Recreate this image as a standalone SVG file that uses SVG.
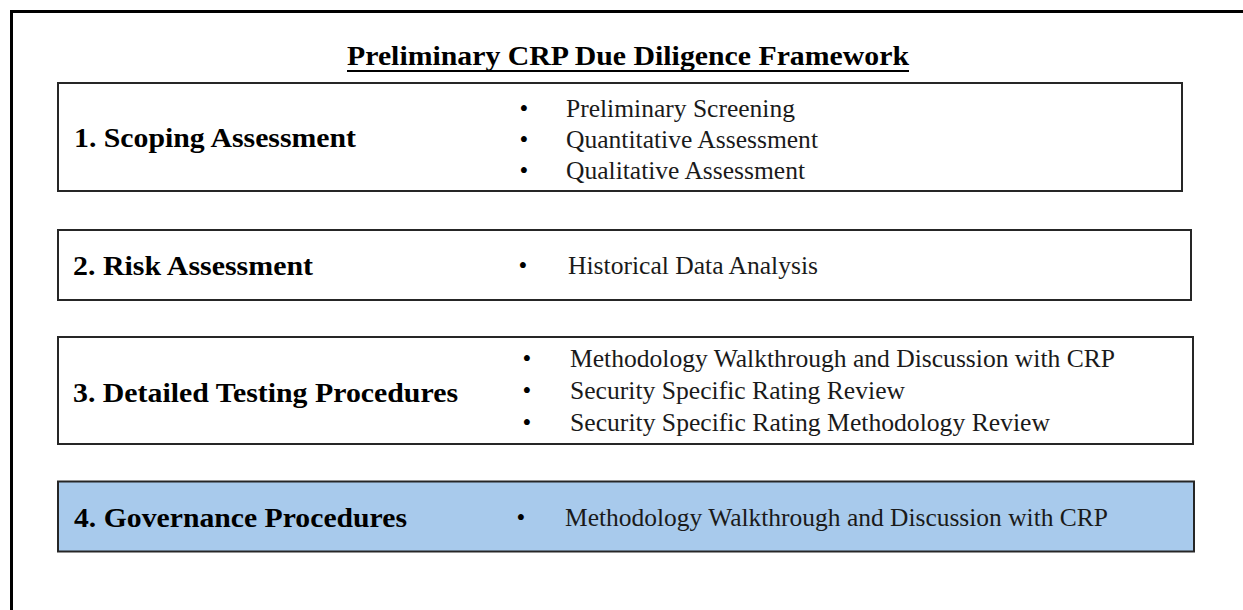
<svg xmlns="http://www.w3.org/2000/svg" width="1243" height="610" viewBox="0 0 1243 610">
<style>
.frame{fill:none;stroke:#000;stroke-width:3}
.box{fill:#fff;stroke:#262626;stroke-width:2}
.hl{fill:#A8CAEC}
.title{font-family:'Liberation Serif','DejaVu Serif',serif;font-weight:bold;font-size:28px;fill:#000}
.lbl{font-family:'Liberation Serif','DejaVu Serif',serif;font-weight:bold;font-size:28px;fill:#000}
.item{font-family:'Liberation Serif','DejaVu Serif',serif;font-size:25.5px;fill:#1a1a1a}
.dot{font-family:'Liberation Serif','DejaVu Serif',serif;font-size:25px;fill:#000;text-anchor:middle}
</style>
<rect class="frame" x="11.5" y="11.5" width="1260" height="620"/>
<g id="title">
<text class="title" x="347" y="65" textLength="562" lengthAdjust="spacingAndGlyphs">Preliminary CRP Due Diligence Framework</text>
<line x1="347" y1="71" x2="909" y2="71" stroke="#000" stroke-width="2"/>
</g>
<g id="node1">
<rect class="box" x="58" y="83" width="1124" height="108"/>
<text class="lbl" x="74" y="147" textLength="282" lengthAdjust="spacingAndGlyphs">1. Scoping Assessment</text>
<text class="dot" x="524" y="117">•</text>
<text class="dot" x="524" y="148">•</text>
<text class="dot" x="524" y="179">•</text>
<text class="item" x="566" y="117" textLength="229" lengthAdjust="spacingAndGlyphs">Preliminary Screening</text>
<text class="item" x="566" y="148" textLength="252" lengthAdjust="spacingAndGlyphs">Quantitative Assessment</text>
<text class="item" x="566" y="179" textLength="239" lengthAdjust="spacingAndGlyphs">Qualitative Assessment</text>
</g>
<g id="node2">
<rect class="box" x="58" y="230" width="1133" height="70"/>
<text class="lbl" x="73" y="275" textLength="240" lengthAdjust="spacingAndGlyphs">2. Risk Assessment</text>
<text class="dot" x="523" y="274">•</text>
<text class="item" x="568" y="274" textLength="250" lengthAdjust="spacingAndGlyphs">Historical Data Analysis</text>
</g>
<g id="node3">
<rect class="box" x="58" y="337" width="1135" height="107"/>
<text class="lbl" x="73" y="402" textLength="385" lengthAdjust="spacingAndGlyphs">3. Detailed Testing Procedures</text>
<text class="dot" x="527" y="367">•</text>
<text class="dot" x="527" y="399">•</text>
<text class="dot" x="527" y="431">•</text>
<text class="item" x="570" y="367" textLength="545" lengthAdjust="spacingAndGlyphs">Methodology Walkthrough and Discussion with CRP</text>
<text class="item" x="570" y="399" textLength="335" lengthAdjust="spacingAndGlyphs">Security Specific Rating Review</text>
<text class="item" x="570" y="431" textLength="480" lengthAdjust="spacingAndGlyphs">Security Specific Rating Methodology Review</text>
</g>
<g id="node4">
<rect class="box hl" x="58" y="481.5" width="1136" height="70"/>
<text class="lbl" x="74" y="527" textLength="333" lengthAdjust="spacingAndGlyphs">4. Governance Procedures</text>
<text class="dot" x="521" y="526">•</text>
<text class="item" x="565" y="526" textLength="543" lengthAdjust="spacingAndGlyphs">Methodology Walkthrough and Discussion with CRP</text>
</g>
<g id="connectors"></g>
</svg>
